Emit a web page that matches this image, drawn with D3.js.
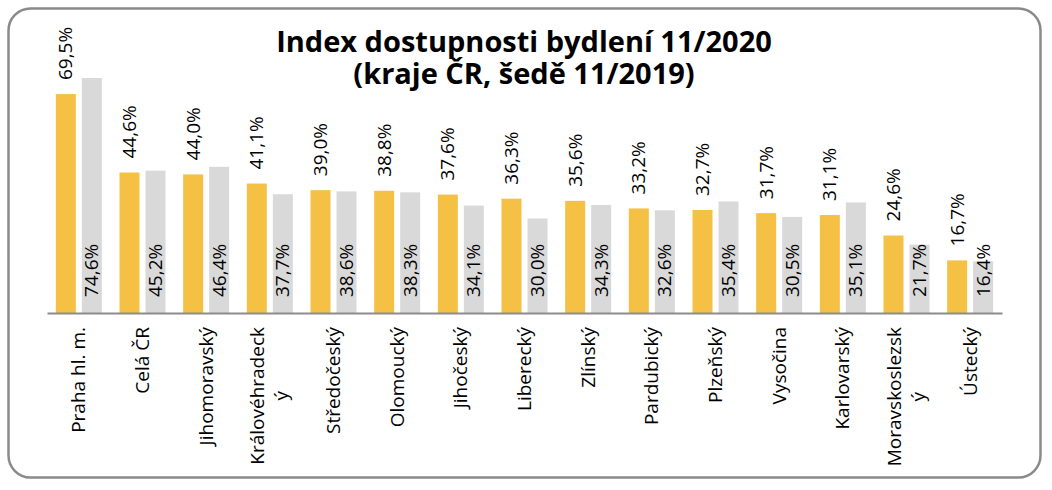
<!DOCTYPE html>
<html>
<head>
<meta charset="utf-8">
<script src="https://cdn.jsdelivr.net/npm/d3@7"></script>
<style>
  body { margin: 0; background: #fff; }
  svg { display: block; font-family: "Open Sans", sans-serif; }
</style>
</head>
<body>
<div id="chart"></div>
<script>
// regions (tick labels already split the way the original wraps them)
var regions = ["Praha hl. m.", "Celá ČR", "Jihomoravský", "Královéhradecký", "Středočeský",
  "Olomoucký", "Jihočeský", "Liberecký", "Zlínský", "Pardubický", "Plzeňský",
  "Vysočina", "Karlovarský", "Moravskoslezský", "Ústecký"];
var tickLabels = [["Praha hl. m."], ["Celá ČR"], ["Jihomoravský"], ["Královéhradeck", "ý"],
  ["Středočeský"], ["Olomoucký"], ["Jihočeský"], ["Liberecký"], ["Zlínský"], ["Pardubický"],
  ["Plzeňský"], ["Vysočina"], ["Karlovarský"], ["Moravskoslezsk", "ý"], ["Ústecký"]];
var values2020 = [69.5, 44.6, 44.0, 41.1, 39.0, 38.8, 37.6, 36.3, 35.6, 33.2, 32.7, 31.7, 31.1, 24.6, 16.7];
var values2019 = [74.6, 45.2, 46.4, 37.7, 38.6, 38.3, 34.1, 30.0, 34.3, 32.6, 35.4, 30.5, 35.1, 21.7, 16.4];
var titleLines = ["Index dostupnosti bydlení 11/2020", "(kraje ČR, šedě 11/2019)"];

var W = 1052, H = 490;
var svg = d3.select("#chart").append("svg").attr("width", W).attr("height", H);

// frame
svg.append("rect")
  .attr("x", 8.5).attr("y", 8.5).attr("width", 1032).attr("height", 469)
  .attr("rx", 22).attr("ry", 22)
  .attr("fill", "#fff").attr("stroke", "#8a8a8a").attr("stroke-width", 2.5);

// title
svg.append("text")
  .attr("x", 524).attr("text-anchor", "middle")
  .attr("font-weight", "bold").attr("font-size", 29).attr("fill", "#000")
  .selectAll("tspan").data(titleLines).enter().append("tspan")
  .attr("x", 524).attr("y", function(d, i) { return 52 + i * 32; })
  .text(function(d) { return d; });

var x = d3.scaleBand().domain(regions).range([47, 1002]);
var y = d3.scaleLinear().domain([0, 80]).range([313, 61]);
var barW = 20, gap = 6;
var off = (x.bandwidth() - (2 * barW + gap)) / 2;

var cz = d3.formatLocale({ decimal: ",", thousands: " ", grouping: [3], currency: ["", " Kč"] });
var fmt = function(v) { return cz.format(".1f")(v) + "%"; };

var g = svg.append("g");

// 2020 bars (yellow)
g.selectAll(".b20").data(values2020).enter().append("rect")
  .attr("x", function(d, i) { return x(regions[i]) + off; })
  .attr("y", function(d) { return y(d); })
  .attr("width", barW)
  .attr("height", function(d) { return y(0) - y(d); })
  .attr("fill", "#F4C145");

// 2019 bars (grey)
g.selectAll(".b19").data(values2019).enter().append("rect")
  .attr("x", function(d, i) { return x(regions[i]) + off + barW + gap; })
  .attr("y", function(d) { return y(d); })
  .attr("width", barW)
  .attr("height", function(d) { return y(0) - y(d); })
  .attr("fill", "#D9D9D9");

// x axis line
var xAxis = g.append("g").attr("transform", "translate(0," + y(0) + ")")
  .call(d3.axisBottom(x).tickSize(0).tickFormat(""));
xAxis.select(".domain").attr("stroke", "#8c8c8c").attr("stroke-width", 2);

// labels above yellow bars
g.selectAll(".l20").data(values2020).enter().append("text")
  .attr("transform", function(d, i) {
    return "translate(" + (x(regions[i]) + off + barW / 2) + "," + (y(d) - 14) + ") rotate(-90)";
  })
  .attr("dy", "0.35em").attr("font-size", 19).attr("fill", "#000")
  .text(fmt);

// labels inside grey bars
g.selectAll(".l19").data(values2019).enter().append("text")
  .attr("transform", function(d, i) {
    return "translate(" + (x(regions[i]) + off + barW * 1.5 + gap) + "," + (y(0) - 16) + ") rotate(-90)";
  })
  .attr("dy", "0.35em").attr("font-size", 19).attr("fill", "#000")
  .text(fmt);

// category labels, rotated, block anchored at top, lines centred in block
var lineH = 24;
tickLabels.forEach(function(lines, i) {
  var cx = x(regions[i]) + x.bandwidth() / 2;
  var grp = g.append("g");
  var texts = lines.map(function(t, j) {
    var lx = cx + (j - (lines.length - 1) / 2) * lineH;
    return grp.append("text")
      .attr("font-size", 19).attr("fill", "#000")
      .attr("dy", "0.35em")
      .attr("data-x", lx)
      .text(t);
  });
  var maxLen = d3.max(texts, function(t) { return t.node().getComputedTextLength(); });
  texts.forEach(function(t) {
    var lx = +t.attr("data-x");
    t.attr("text-anchor", "middle")
      .attr("transform", "translate(" + lx + "," + (327 + maxLen / 2) + ") rotate(-90)");
  });
});
</script>
</body>
</html>
